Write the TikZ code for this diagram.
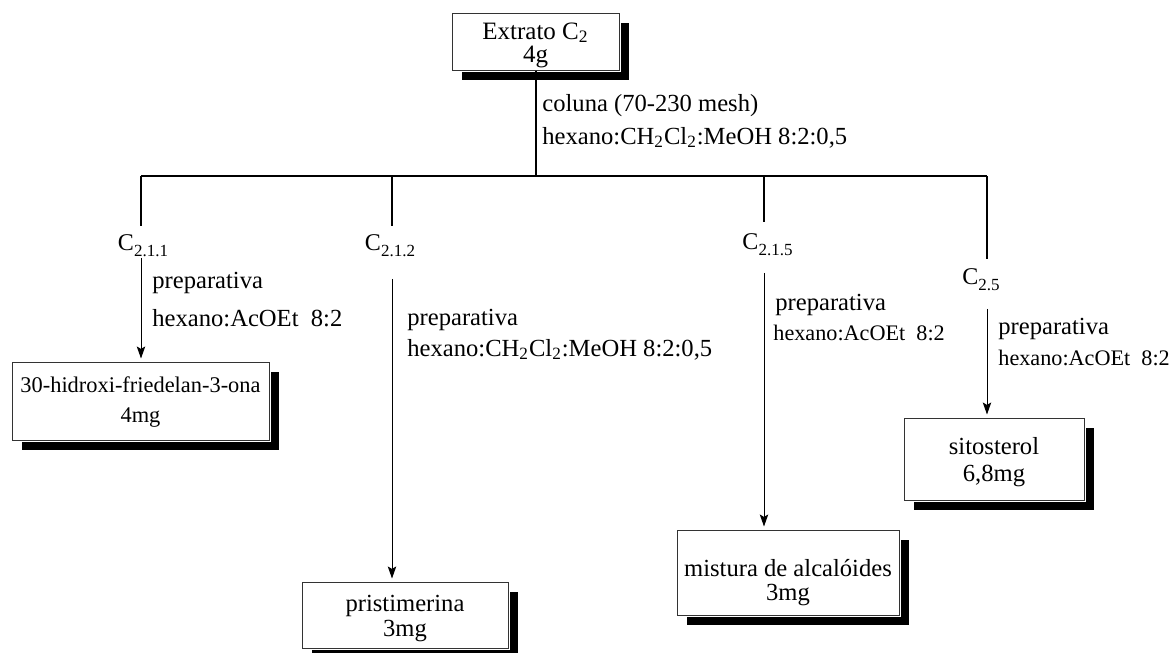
\documentclass[tikz,border=0pt]{standalone}
\usepackage{fontspec}
\setmainfont{Liberation Serif}
\usetikzlibrary{arrows.meta,shadows}
\newcommand{\frc}[1]{C\raisebox{-3pt}{\fontsize{8.5}{10}\selectfont #1}}

\begin{document}
\begin{tikzpicture}[x=0.5pt,y=-0.5pt,
  box/.style={draw=black!80, fill=white, line width=0.5pt, inner sep=0pt,
    general shadow={fill=black, shadow xshift=4.75pt, shadow yshift=-5pt},
    preaction={draw=white, line width=1.6pt}},
  boxtext/.style={align=center, inner sep=0pt},
  tree/.style={line width=1pt},
  flow/.style={line width=0.5pt, -{Stealth[length=6pt,width=4.2pt,inset=1.2pt]}, shorten >=1.5pt},
  fraclabel/.style={inner sep=0pt, anchor=north, font=\fontsize{12}{14}\selectfont},
  note/.style={inner sep=0pt, anchor=base west, font=\fontsize{12.3}{14}\selectfont},
  smallnote/.style={note, font=\fontsize{11.1}{13}\selectfont}]
\useasboundingbox (0,0) rectangle (1175,653);

\node[box, minimum width=83.5pt, minimum height=28.5pt] (extrato) at (535.5,41.5) {};
\node[boxtext, font=\fontsize{12.5}{11.5}\selectfont] (extrato-t) at (535.5,45) {Extrato C\textsubscript{2}\\4g};

\node[box, minimum width=128.5pt, minimum height=39pt] (hidroxi) at (140.5,401) {};
\node[boxtext, font=\fontsize{11.2}{15}\selectfont] (hidroxi-t) at (140.5,402) {30-hidroxi-friedelan-3-ona\\4mg};

\node[box, minimum width=103pt, minimum height=33pt] (pristimerina) at (405,615) {};
\node[boxtext, font=\fontsize{12.3}{12.5}\selectfont] (pristimerina-t) at (405,619) {pristimerina\\3mg};

\node[box, minimum width=111pt, minimum height=42.5pt] (mistura) at (788,572.5) {};
\node[boxtext, font=\fontsize{12.3}{12}\selectfont] (mistura-t) at (788,583) {mistura de alcalóides\\3mg};

\node[box, minimum width=90pt, minimum height=41pt] (sitosterol) at (994,459) {};
\node[boxtext, font=\fontsize{12.3}{13.5}\selectfont] (sitosterol-t) at (994,462.5) {sitosterol\\6,8mg};

\coordinate (j0) at (535.5,176);
\coordinate (j1) at (141,176);
\coordinate (j2) at (392,176);
\coordinate (j3) at (764,176);
\coordinate (j4) at (987,176);

\node[fraclabel] (c211) at (143,234) {\frc{2.1.1}};
\node[fraclabel] (c212) at (390,234) {\frc{2.1.2}};
\node[fraclabel] (c215) at (767.5,233) {\frc{2.1.5}};
\node[fraclabel] (c25) at (981,268) {\frc{2.5}};

\draw[tree] (extrato.south) -- (j0);
\draw[tree] (j1) -- (j4);
\draw[tree, shorten >=4pt] (j1) -- (j1 |- c211.north);
\draw[tree, shorten >=4pt] (j2) -- (j2 |- c212.north);
\draw[line width=0.6pt, shorten >=5.5pt] (j3) -- (j3 |- c215.north);
\draw[tree, shorten >=4.5pt] (j4) -- (j4 |- c25.north);

\draw[flow, shorten <=0.5pt] (j1 |- c211.south) -- (j1 |- hidroxi.north);
\draw[flow, shorten <=11pt] (j2 |- c212.south) -- (j2 |- pristimerina.north);
\draw[flow, shorten <=8.5pt] (j3 |- c215.south) -- (j3 |- mistura.north);
\draw[flow, shorten <=9pt] (j4 |- c25.south) -- (j4 |- sitosterol.north);

\node[note] (coluna) at (542,112) {coluna (70-230 mesh)};
\node[note] (eluente) at (542,144) {hexano:CH\textsubscript{2}Cl\textsubscript{2}:MeOH 8:2:0,5};
\node[note] (prep1) at (152,288) {preparativa};
\node[note] (elu1) at (152,326) {hexano:AcOEt\ \ 8:2};
\node[note] (prep2) at (407,325) {preparativa};
\node[note] (elu2) at (407,356) {hexano:CH\textsubscript{2}Cl\textsubscript{2}:MeOH 8:2:0,5};
\node[note] (prep3) at (775,310) {preparativa};
\node[smallnote] (elu3) at (773,340) {hexano:AcOEt\ \ 8:2};
\node[note] (prep4) at (998,334) {preparativa};
\node[smallnote] (elu4) at (998,365) {hexano:AcOEt\ \ 8:2};
\end{tikzpicture}
\end{document}
